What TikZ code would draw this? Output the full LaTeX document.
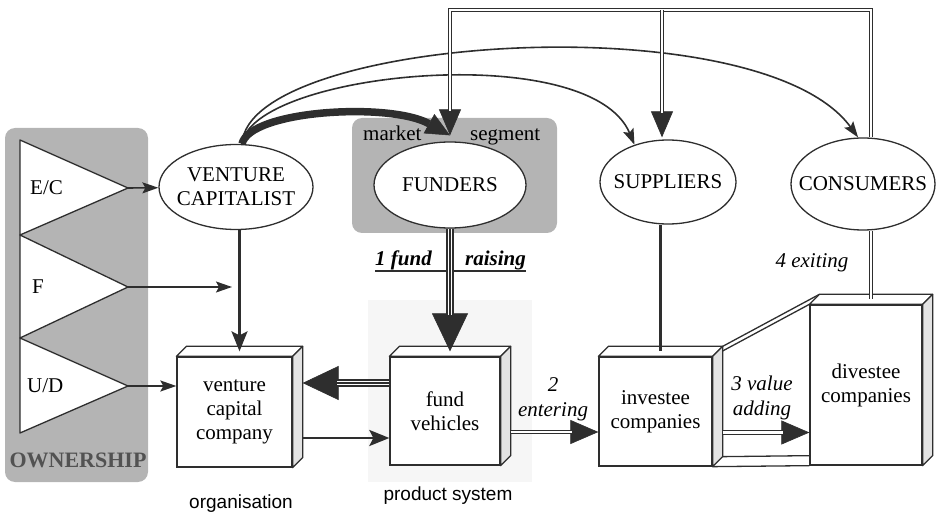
\documentclass[tikz,border=0pt]{standalone}
\usepackage{fontspec}
\setmainfont{Liberation Serif}
\newfontfamily\sanslabel{Liberation Sans}
\usetikzlibrary{shapes}
\usetikzlibrary{arrows.meta}
\usetikzlibrary{calc}
\definecolor{ink}{HTML}{2E2E2E}
\definecolor{panelgray}{HTML}{B4B4B4}
% top and side faces of a box node
\newcommand{\crate}[1]{%
  \filldraw[boxline, fill=white] (#1.north west) -- ++(10,-10) -- ([xshift=10pt,yshift=10pt]#1.north east) -- (#1.north east) -- cycle;
  \filldraw[boxline, fill=gray!22] (#1.north east) -- ++(10,-10) -- ([xshift=10pt,yshift=10pt]#1.south east) -- (#1.south east) -- cycle;}

\begin{document}
\begin{tikzpicture}[x=1pt,y=-1pt,
    font=\fontsize{21}{24}\selectfont,
    party/.style={ellipse, draw=ink, line width=1.3pt, fill=white, inner xsep=-20pt, inner ysep=-6pt, align=center},
    crate/.style={rectangle, draw=ink, line width=1.3pt, fill=white, align=center, inner sep=0pt},
    boxline/.style={draw=ink, line width=1.3pt, line join=round},
    link/.style={draw=ink, line width=1.6pt, -{Stealth[length=16pt,width=11pt,inset=3pt]}},
    bighead/.style 2 args={draw=ink, line width=1pt, -{Triangle[length=#1,width=#2,line width=0.6pt]}},
    dline/.style={draw=ink, line width=1.2pt, double=white, double distance=2.2pt},
    tline/.style={draw=ink, line width=1.2pt, preaction={draw=ink, line width=7.4pt}, preaction={draw=white, line width=4.8pt}},
    note/.style={font=\fontsize{21}{25}\selectfont\itshape, align=center, inner sep=0pt}]
  \useasboundingbox (0,0) rectangle (938,513);

  % shaded areas
  \fill[panelgray, rounded corners=10pt] (5,128) rectangle (148,482);
  \fill[panelgray, rounded corners=10pt] (352,118) rectangle (557,233);
  \fill[gray!7] (368,300) rectangle (532,482);

  % ownership
  \coordinate (ec) at (128,188);
  \coordinate (fo) at (128,287);
  \coordinate (ud) at (128,386);
  \filldraw[boxline, fill=white] (20,140) -- (ec) -- (20,235) -- cycle;
  \filldraw[boxline, fill=white] (20,235) -- (fo) -- (20,338) -- cycle;
  \filldraw[boxline, fill=white] (20,338) -- (ud) -- (20,433) -- cycle;
  \node[anchor=west, inner sep=0pt] (ec-l) at (30,188) {E/C};
  \node[anchor=west, inner sep=0pt] (fo-l) at (32,287) {F};
  \node[anchor=west, inner sep=0pt] (ud-l) at (27,386) {U/D};
  \node[font=\fontsize{22}{26}\selectfont\bfseries, text=black!68] (own) at (78,460) {OWNERSHIP};

  \node[anchor=base west, inner sep=0pt] (mkt) at (363,141) {market};
  \node[anchor=base west, inner sep=0pt] (seg) at (470,141) {segment};

  % actors
  \node[party, minimum width=154pt, minimum height=85pt] (vc) at (236,187) {VENTURE\\CAPITALIST};
  \node[party, minimum width=152pt, minimum height=86pt] (funders) at (450,185) {FUNDERS};
  \node[party, minimum width=136pt, minimum height=84pt] (sup) at (668,182) {SUPPLIERS};
  \node[party, minimum width=144pt, minimum height=92pt] (cons) at (863,184) {CONSUMERS};

  % boxes
  \node[crate, minimum width=115pt, minimum height=110pt] (vcc) at (234.5,412) {venture\\capital\\company};
  \node[crate, minimum width=110pt, minimum height=108pt] (fv) at (445,411) {fund\\vehicles};
  \node[crate, minimum width=113pt, minimum height=109pt] (inv) at (655.5,411.5) {investee\\companies};
  \node[crate, minimum width=112pt, minimum height=160pt] (div) at (866,385) {divestee\\companies};
  \draw[boxline] (inv.north east) -- (div.north west);
  \draw[boxline] ([xshift=10pt,yshift=10pt]inv.north east) -- ([xshift=10pt,yshift=10pt]div.north west);
  \draw[boxline] (inv.south east) -- (div.south west);
  \draw[boxline] ([xshift=10pt,yshift=10pt]inv.south east) -- ([yshift=10pt]div.south west);
  \crate{vcc}
  \crate{fv}
  \crate{inv}
  \crate{div}

  \coordinate (vc-top) at ([xshift=6pt]vc.north);
  \coordinate (fund-in) at ([yshift=6pt]funders.north);
  \coordinate (sup-in) at ([xshift=-6pt,yshift=2pt]sup.north);
  \coordinate (ridge) at (450,10);
  \coordinate (vcc-top) at ([xshift=5pt,yshift=5pt]vcc.north);
  \coordinate (fv-top) at ([xshift=5pt,yshift=5pt]fv.north);
  \coordinate (inv-top) at ([xshift=5pt,yshift=5pt]inv.north);
  \coordinate (div-top) at ([xshift=5pt,yshift=5pt]div.north);
  \coordinate (f-end) at (232,287);

  % ownership arrows
  \draw[link] (ec) -- (vc);
  \draw[link] (fo) -- (f-end);
  \draw[link] (ud) -- (ud -| vcc.west);
  \draw[link, line width=2.2pt, -{Stealth[length=20pt,width=16pt,inset=4pt]}] (vcc-top |- vc.south) -- (vcc-top);

  % flows out of the venture capitalist
  \draw[link] (vc-top) .. controls (252,72) and (590,38) .. (sup.132);
  \draw[link] (vc-top) .. controls (248,36) and (760,2) .. (cons.96);
  \draw[ink, line width=7.5pt, -{Triangle[length=24pt,width=22pt,line width=0.5pt]}] (vc-top) .. controls (250,110) and (390,102) .. (fund-in);

  % returns to funders and suppliers
  \draw[bighead={26pt}{22pt}] (ridge) -- (fund-in);
  \draw[bighead={26pt}{22pt}] (sup-in |- ridge) -- (sup-in);
  \draw[dline, shorten >=24pt] (div-top |- cons.north) |- (ridge) -- (fund-in);
  \draw[dline, shorten >=24pt] (sup-in |- ridge) -- (sup-in);
  \draw[dline] (div-top |- cons.south) -- (div-top);
  \draw[ink, line width=2.6pt] (inv-top |- sup.south) -- (inv-top);

  % 1 fund raising
  \node[anchor=base west, inner sep=0pt, font=\fontsize{21}{24}\selectfont\bfseries\itshape] (fund1) at (375,266) {1 fund};
  \node[anchor=base west, inner sep=0pt, font=\fontsize{21}{24}\selectfont\bfseries\itshape] (raise) at (465,266) {raising};
  \draw[ink, line width=1.2pt] ([yshift=-5pt]fund1.base west) -- ([yshift=-5pt]raise.base east);
  \draw[bighead={38pt}{36pt}] (fv-top |- funders.south) -- (fv-top);
  \draw[tline, shorten >=36pt] (fv-top |- funders.south) -- (fv-top);

  % between company and vehicles
  \coordinate (fv-up) at ([yshift=28pt]fv.west);
  \coordinate (vcc-side) at ([xshift=10pt]vcc.east);
  \coordinate (vcc-low) at ([xshift=10pt,yshift=-26pt]vcc.east);
  \draw[bighead={36pt}{34pt}] (fv-up) -- (fv-up -| vcc-side);
  \draw[tline, shorten >=34pt] (fv-up) -- (fv-up -| vcc-side);
  \draw[link, line width=2.6pt, -{Stealth[length=20pt,width=16pt,inset=4pt]}] (vcc-low) -- (vcc-low -| fv.west);

  % 2 entering, 3 value adding
  \coordinate (fv-out) at ([xshift=10pt,yshift=-21pt]fv.east);
  \coordinate (inv-out) at ([xshift=10pt,yshift=-21pt]inv.east);
  \draw[bighead={28pt}{24pt}] (fv-out) -- (fv-out -| inv.west);
  \draw[dline, shorten >=26pt] (fv-out) -- (fv-out -| inv.west);
  \draw[bighead={28pt}{24pt}] (inv-out) -- (inv-out -| div.west);
  \draw[dline, shorten >=26pt] (inv-out) -- (inv-out -| div.west);

  \node[note] (enter) at (553,399) {2\\entering};
  \node[note] (adding) at (762,398) {3 value\\adding};
  \node[note, anchor=base] (exit) at (812,268) {4 exiting};

  \node[font=\sanslabel\fontsize{19}{22}\selectfont, anchor=base] (org) at (241,508) {organisation};
  \node[font=\sanslabel\fontsize{19}{22}\selectfont, anchor=base] (prod) at (448,500) {product system};
\end{tikzpicture}
\end{document}
